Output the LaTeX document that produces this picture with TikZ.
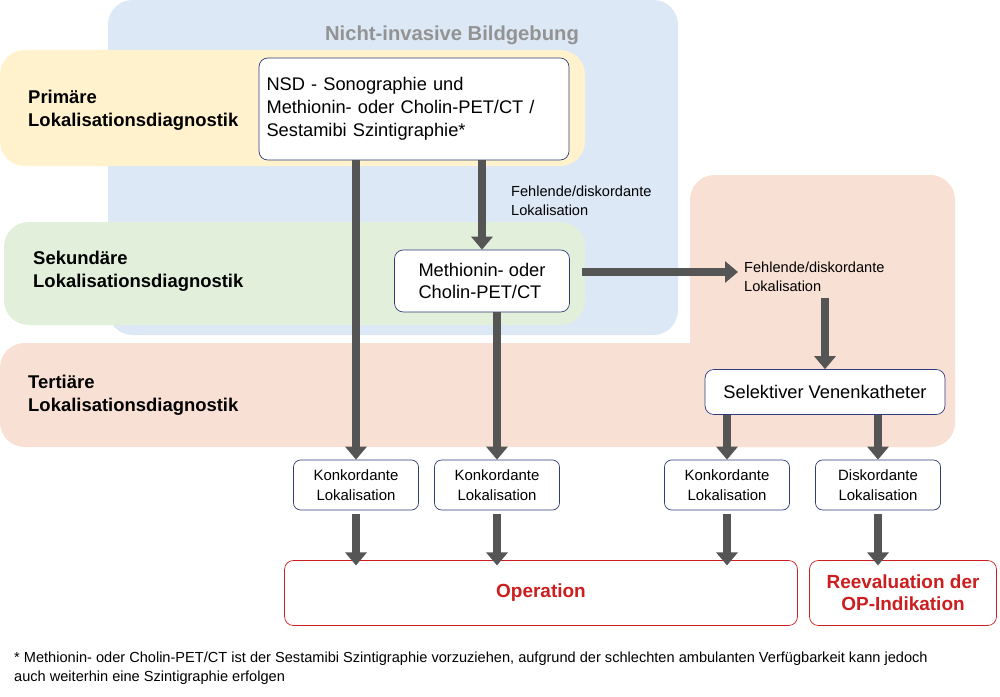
\documentclass[tikz,border=0pt]{standalone}
\usepackage{fontspec}
\setmainfont{Liberation Sans}
\usetikzlibrary{arrows.meta,positioning}
\definecolor{bluebg}{RGB}{220,232,245}
\definecolor{yellowbg}{RGB}{255,242,204}
\definecolor{greenbg}{RGB}{226,239,218}
\definecolor{peachbg}{RGB}{248,225,212}
\definecolor{navy}{RGB}{47,60,120}
\definecolor{redtxt}{RGB}{204,30,30}
\definecolor{arrowgray}{RGB}{85,85,85}
\tikzset{
        region/.style={rounded corners=14pt, draw=none},
        lab/.style={font=\bfseries\fontsize{10.5}{13}\selectfont, align=left, anchor=west},
        box/.style={draw=navy, rounded corners=5pt, fill=white, align=left,
                    font=\fontsize{10.4}{13}\selectfont},
        small/.style={draw=navy, rounded corners=4pt, fill=white, align=center,
                      font=\fontsize{8.5}{11}\selectfont, minimum width=2.5cm, minimum height=1cm},
        endbox/.style={draw=redtxt, rounded corners=5pt, fill=white, align=center,
                       text=redtxt, font=\bfseries\fontsize{10.8}{12.5}\selectfont},
        note/.style={font=\fontsize{8.3}{11}\selectfont, align=left, anchor=west},
        myarrow/.style={arrowgray, line width=1.5mm,
                        -{Triangle[width=4.2mm,length=2.6mm]}},
 }
\begin{document}
\begin{tikzpicture}[x=0.02cm,y=-0.02cm]
    \useasboundingbox (0,0) rectangle (1000,696);
    % background regions
    \fill[bluebg, region] (108,0) rectangle (678,335);
    \fill[peachbg, region] (690,175) rectangle (955,447);
    \fill[peachbg, region] (0,343) rectangle (955,447);
    \fill[yellowbg, region] (0,50) rectangle (585,166);
    \fill[greenbg, region] (4,222) rectangle (585,325);
    \node[font=\bfseries\fontsize{11.5}{13}\selectfont, text=gray!85] (title) at (452,35) {Nicht-invasive Bildgebung};

    \node[lab] (prim) at (22,110) {Primäre\\Lokalisationsdiagnostik};
    \node[lab] (sek) at (27,271) {Sekundäre\\Lokalisationsdiagnostik};
    \node[lab] (tert) at (22,395) {Tertiäre\\Lokalisationsdiagnostik};

    % main boxes
    \node[box, minimum width=6.2cm, minimum height=2.04cm, text width=5.9cm] (nsd) at (414,109)
         {NSD - Sonographie und\\Methionin- oder Cholin-PET/CT /\\Sestamibi Szintigraphie*};
    \node[box, minimum width=3.5cm, minimum height=1.24cm] (pet) at (482,281)
         {Methionin- oder\\Cholin-PET/CT};
    \node[box, minimum width=4.8cm, minimum height=0.9cm, align=center] (svk) at (825,392)
         {Selektiver Venenkatheter};
    \node[note] (fd1) at (505,201) {Fehlende/diskordante\\Lokalisation};
    \node[note] (fd2) at (738,277) {Fehlende/diskordante\\Lokalisation};

    % results
    \node[small] (k1) at (356,485) {Konkordante\\Lokalisation};
    \node[small] (k2) at (497,485) {Konkordante\\Lokalisation};
    \node[small] (k3) at (727,485) {Konkordante\\Lokalisation};
    \node[small] (d1) at (878,485) {Diskordante\\Lokalisation};
    \node[endbox, minimum width=10.26cm, minimum height=1.3cm] (op) at (541,593) {Operation};
    \node[endbox, minimum width=3.74cm, minimum height=1.3cm] (reev) at (903,593) {Reevaluation der\\OP-Indikation};

    % connectors
    \draw[myarrow] (nsd.south -| k1) -- (k1.north);
    \draw[myarrow] (nsd.south -| pet) -- (pet.north);
    \draw[myarrow] (pet.south -| k2) -- (k2.north);
    \draw[myarrow] (pet.east) ++(12,-9) coordinate (pe) -- (pe -| fd2.west);
    \draw[myarrow] (fd2.south -| svk) -- (svk.north);
    \draw[myarrow] (svk.south -| k3) -- (k3.north);
    \draw[myarrow] (svk.south -| d1) -- (d1.north);
    \foreach \n in {k1,k2,k3} {
        \draw[myarrow] (\n.south) ++(0,4) coordinate (s) -- ([yshift=-3]s |- op.north);
    }
    \draw[myarrow] (d1.south) ++(0,4) coordinate (s) -- ([yshift=-3]s |- reev.north);

    \node[note] (foot) at (8,668) {* Methionin- oder Cholin-PET/CT ist der Sestamibi Szintigraphie vorzuziehen, aufgrund der schlechten ambulanten Verfügbarkeit kann jedoch\\auch weiterhin eine Szintigraphie erfolgen};
\end{tikzpicture}
\end{document}
